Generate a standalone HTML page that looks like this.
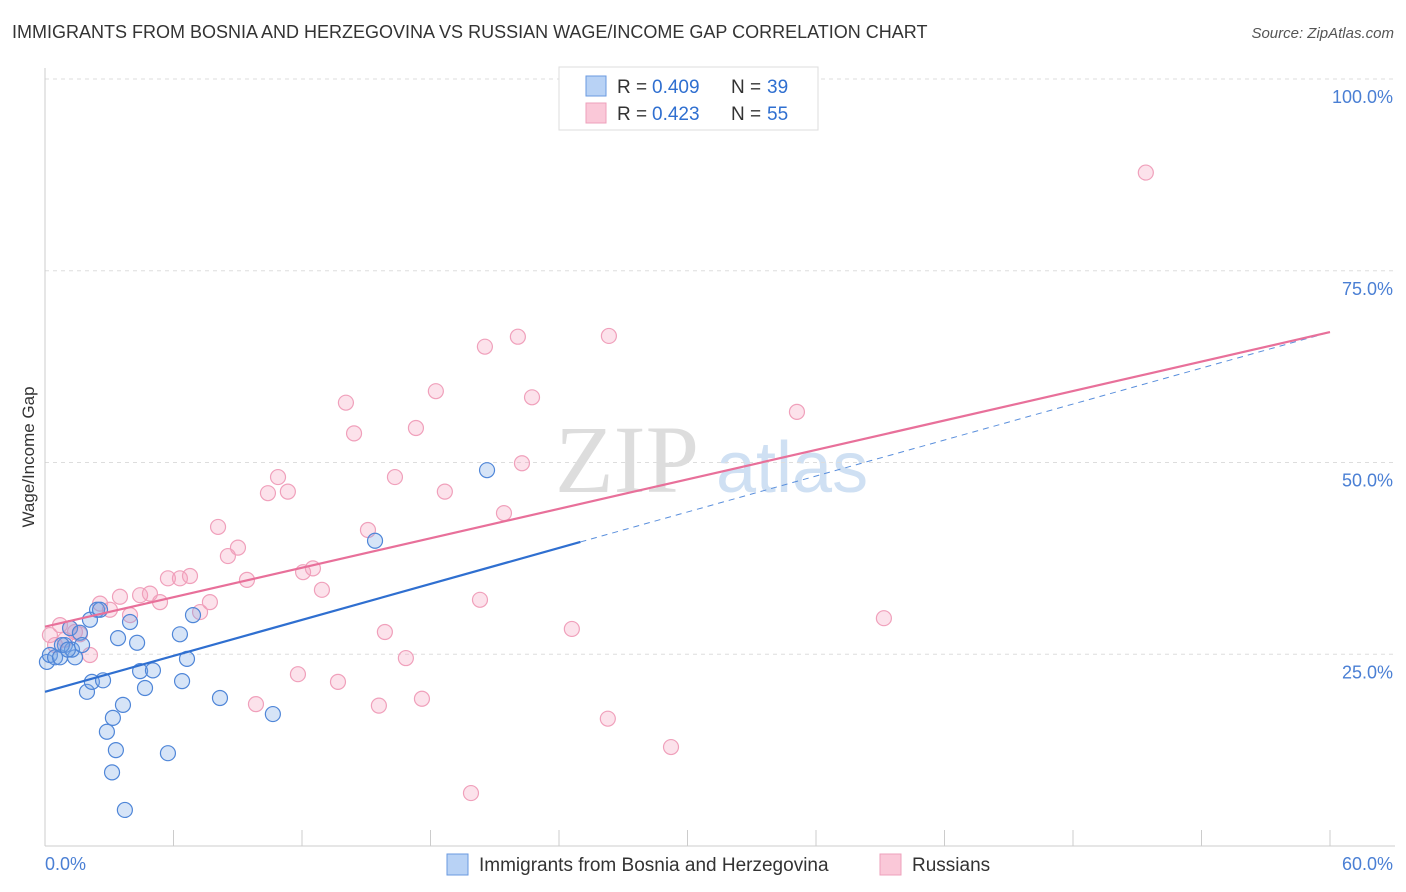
<!DOCTYPE html>
<html><head><meta charset="utf-8">
<style>
body{margin:0;background:#fff;font-family:"Liberation Sans",sans-serif;}
#wrap{position:relative;width:1406px;height:892px;overflow:hidden;}
.title{position:absolute;left:12px;top:22px;font-size:18px;color:#333;}
.source{position:absolute;right:12px;top:25px;font-size:15px;color:#555;font-style:italic;}
</style></head><body>
<div id="wrap">
<div class="title">IMMIGRANTS FROM BOSNIA AND HERZEGOVINA VS RUSSIAN WAGE/INCOME GAP CORRELATION CHART</div>
<div class="source">Source: ZipAtlas.com</div>
<svg id="svg" width="1406" height="892" style="position:absolute;left:0;top:0"></svg>
</div>
<script>
const blueX=[0.09,0.23,0.47,0.70,0.93,1.17,1.40,1.26,1.63,1.73,1.96,2.10,2.19,2.43,2.57,2.71,2.89,3.13,3.17,3.31,3.41,3.64,3.73,3.97,4.30,4.44,4.67,5.04,5.74,6.30,6.40,6.63,6.91,8.17,10.64,15.41,20.64,0.79,1.07];
const blueY=[24.0,24.9,24.6,24.6,26.2,28.4,24.6,25.6,27.8,26.2,20.1,29.5,21.4,30.8,30.8,21.6,14.9,9.6,16.7,12.5,27.1,18.4,4.7,29.2,26.5,22.8,20.6,22.9,12.1,27.6,21.5,24.4,30.1,19.3,17.2,39.8,49.0,26.2,25.6];
const pinkX=[0.23,0.47,0.70,0.93,1.17,1.40,1.63,2.10,2.57,3.03,3.50,3.97,4.44,4.90,5.37,5.74,6.30,6.77,7.24,7.70,8.08,8.54,9.01,9.43,9.85,10.41,10.88,11.34,11.81,12.05,12.51,12.93,13.68,14.05,14.43,15.08,15.59,15.87,16.34,16.85,17.32,17.60,18.25,18.67,19.89,20.31,20.54,21.43,22.08,22.27,22.74,24.60,26.28,26.33,29.23,35.11,39.17,51.40];
const pinkY=[27.5,26.2,28.8,26.9,28.4,27.9,27.6,24.9,31.6,30.8,32.5,30.1,32.7,32.9,31.8,34.9,34.9,35.2,30.5,31.8,41.6,37.8,38.9,34.7,18.5,46.0,48.1,46.2,22.4,35.7,36.2,33.4,21.4,57.8,53.8,41.2,18.3,27.9,48.1,24.5,54.5,19.2,59.3,46.2,6.9,32.1,65.1,43.4,66.4,49.9,58.5,28.3,16.6,66.5,12.9,56.6,29.7,87.8];
const yTicks=[25,50,75,100];
const yTickLabels=["25.0%","50.0%","75.0%","100.0%"];
const xTicks=[0,6,12,18,24,30,36,42,48,54,60];
const blueTrend=[20.1,67.0], pinkTrend=[28.6,67.0];
const blueSolidEnd=25.0;

const svg=document.getElementById('svg');const NS='http://www.w3.org/2000/svg';
const X=v=>45+v*(1285/60), Y=v=>846-v*(767/100);
function el(t,a,p){const e=document.createElementNS(NS,t);for(const k in a)e.setAttribute(k,a[k]);(p||svg).appendChild(e);return e;}
let w=el('text',{x:555,y:492,'font-size':96,fill:'#ddd','font-family':'Liberation Serif,serif'});w.textContent='ZIP';


let w2=el('text',{x:716,y:492,'font-size':72,fill:'#cfe0f3','font-family':'Liberation Sans,sans-serif'});w2.textContent='atlas';


yTicks.forEach((t,i)=>{
 const g=el('line',{x1:45,x2:1395,y1:Y(t),y2:Y(t),stroke:'#ddd','stroke-dasharray':'4,4'});
 
 
 const l=el('text',{x:1393,y:Y(t)+24,'text-anchor':'end','font-size':18,fill:'#4a7fd4'});l.textContent=yTickLabels[i];
 
 
});
let ax=el('line',{x1:45,x2:45,y1:68,y2:846,stroke:'#ccc'});


let bx=el('line',{x1:45,x2:1395,y1:846,y2:846,stroke:'#ccc'});


xTicks.forEach(t=>{const k=el('line',{x1:X(t),x2:X(t),y1:830,y2:846,stroke:'#ccc'});
 
 });
let xl=el('text',{x:45,y:870,'font-size':18,fill:'#4a7fd4'});xl.textContent='0.0%';


let xr=el('text',{x:1393,y:870,'text-anchor':'end','font-size':18,fill:'#4a7fd4'});xr.textContent='60.0%';


let yt=el('text',{x:34,y:457,'font-size':17,fill:'#333','text-anchor':'middle',transform:'rotate(-90 34 457)'});yt.textContent='Wage/Income Gap';


pinkX.forEach((x,i)=>{const c=el('circle',{cx:X(x),cy:Y(pinkY[i]),r:7.5,fill:'rgba(244,160,190,0.3)',stroke:'#f0a0bb','stroke-width':1.2});
 
 });
blueX.forEach((x,i)=>{const c=el('circle',{cx:X(x),cy:Y(blueY[i]),r:7.5,fill:'rgba(120,165,230,0.3)',stroke:'#4f86d8','stroke-width':1.2});
 
 });
const bv=x=>blueTrend[0]+(blueTrend[1]-blueTrend[0])*x/60;
let bl=el('line',{x1:X(0),y1:Y(bv(0)),x2:X(blueSolidEnd),y2:Y(bv(blueSolidEnd)),stroke:'#2f6fd0','stroke-width':2.2});


let bd=el('line',{x1:X(blueSolidEnd),y1:Y(bv(blueSolidEnd)),x2:X(60),y2:Y(bv(60)),stroke:'#5a8fdc','stroke-width':1,'stroke-dasharray':'6,5'});


let pl=el('line',{x1:X(0),y1:Y(pinkTrend[0]),x2:X(60),y2:Y(pinkTrend[1]),stroke:'#e8709a','stroke-width':2.2});


let lb=el('rect',{x:559,y:67,width:259,height:63,fill:'#fff',stroke:'#ddd'});


[[86,'#b8d2f5','#6a9ae0','0.409','39'],[113,'#fac8d8','#eea0bb','0.423','55']].forEach(r=>{
 const s=el('rect',{x:586,y:r[0]-10,width:20,height:20,fill:r[1],stroke:r[2]});
 
 
 [[617,'R =','#333'],[652,r[3],'#2f6fd0'],[731,'N =','#333'],[767,r[4],'#2f6fd0']].forEach(p=>{
  const t=el('text',{x:p[0],y:r[0]+7,'font-size':19,fill:p[2]});t.textContent=p[1];
  
  
 });
});
[[447,'#b8d2f5','#6a9ae0','Immigrants from Bosnia and Herzegovina',479],[880,'#fac8d8','#eea0bb','Russians',912]].forEach(r=>{
 const s=el('rect',{x:r[0],y:854,width:21,height:21,fill:r[1],stroke:r[2]});
 
 
 const t=el('text',{x:r[4],y:871,'font-size':19,fill:'#333'});t.textContent=r[3];
 
 
});
</script>
</body></html>
